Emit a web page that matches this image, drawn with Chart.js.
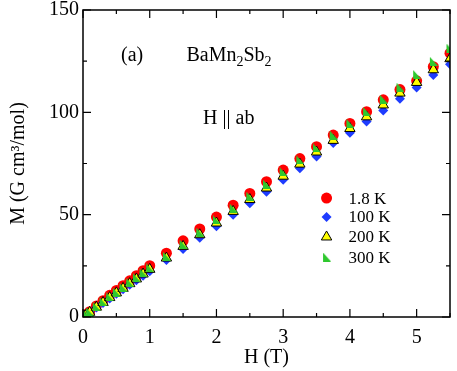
<!DOCTYPE html>
<html>
<head>
<meta charset="utf-8">
<script src="https://cdn.jsdelivr.net/npm/chart.js@4.4.0/dist/chart.umd.min.js"></script>
<style>
  html, body { margin: 0; padding: 0; background: #fff; }
</style>
</head>
<body>
<canvas id="mhChart" width="457" height="371"></canvas>
<script>
// field values H (T)
const fields = [0, 0.02, 0.05, 0.1, 0.2, 0.3, 0.4, 0.5, 0.6, 0.7, 0.8, 0.9, 1.0,
  1.25, 1.5, 1.75, 2.0, 2.25, 2.5, 2.75, 3.0, 3.25, 3.5, 3.75, 4.0, 4.25, 4.5, 4.75, 5.0, 5.25, 5.5];

// magnetization M (G cm^3/mol) at each temperature
const m1p8K = [0.1, 0.5, 1.2, 2.6, 5.4, 8.0, 10.6, 13.0, 15.3, 17.7, 20.2, 22.6, 25.1,
  31.2, 37.2, 43.0, 48.8, 54.6, 60.4, 66.1, 71.8, 77.4, 83.2, 88.9, 94.6, 100.3, 106.1, 111.1, 115.4, 122.3, 128.9];
const m100K = [0, 0.4, 1.1, 2.2, 4.6, 6.9, 9.1, 11.3, 13.5, 15.7, 18.0, 20.2, 22.4,
  27.8, 33.2, 38.7, 44.3, 49.9, 55.6, 61.2, 67.0, 72.7, 78.4, 85.0, 90.0, 95.5, 100.9, 106.6, 112.1, 118.2, 123.5];
const m200K = [0, 0.5, 1.1, 2.3, 4.8, 7.1, 9.5, 11.8, 14.0, 16.3, 18.6, 21.0, 23.3,
  28.8, 34.5, 40.2, 45.9, 51.6, 57.4, 63.0, 68.8, 74.7, 80.6, 86.3, 92.1, 97.8, 103.6, 109.4, 114.6, 120.8, 126.2];
const m300K = [0, 0.5, 1.2, 2.4, 5.0, 7.4, 9.8, 12.1, 14.4, 16.8, 19.2, 21.6, 24.0,
  29.7, 35.6, 41.5, 47.4, 53.2, 59.0, 64.9, 70.9, 76.8, 82.6, 88.9, 94.6, 100.4, 106.5, 112.3, 118.5, 124.9, 131.4];

const seriesLabels = ['1.8 K', '100 K', '200 K', '300 K'];

const serif = "'Liberation Serif', 'DejaVu Serif', serif";

// right-angle triangle marker for 300 K
function cornerTriangle(size, color) {
  const c = document.createElement('canvas');
  c.width = size;
  c.height = size;
  const g = c.getContext('2d');
  g.fillStyle = color;
  g.beginPath();
  g.moveTo(1, 0);
  g.lineTo(1, size);
  g.lineTo(size, size);
  g.closePath();
  g.fill();
  return c;
}

function toPoints(values) {
  return fields.map((h, i) => ({ x: h, y: values[i] }));
}

const styles = [
  { pointStyle: 'circle', pointRadius: 5.5, bg: '#ff0000', border: '#ff0000', bw: 0, order: 4 },
  { pointStyle: 'rectRot', pointRadius: 5, bg: '#1e3cff', border: '#1e3cff', bw: 0, order: 3 },
  { pointStyle: 'triangle', pointRadius: 6, bg: '#ffff00', border: '#000000', bw: 1, order: 2 },
  { pointStyle: cornerTriangle(9, '#2ec82e'), pointRadius: 5, bg: '#2ec82e', border: '#2ec82e', bw: 0, order: 1 }
];

const seriesValues = [m1p8K, m100K, m200K, m300K];

const datasets = seriesValues.map((vals, i) => ({
  label: seriesLabels[i],
  data: toPoints(vals),
  showLine: false,
  pointStyle: styles[i].pointStyle,
  pointRadius: styles[i].pointRadius,
  pointHoverRadius: styles[i].pointRadius,
  backgroundColor: styles[i].bg,
  borderColor: styles[i].border,
  pointBorderWidth: styles[i].bw,
  order: styles[i].order
}));

// box frame with inward ticks on all four sides
const frameTicks = {
  id: 'frameTicks',
  afterDraw(chart) {
    const { ctx, chartArea: a, scales: { x, y } } = chart;
    ctx.save();
    ctx.strokeStyle = '#000';
    ctx.lineWidth = 1.5;
    ctx.strokeRect(a.left, a.top, a.right - a.left, a.bottom - a.top);
    ctx.lineWidth = 1.2;
    ctx.beginPath();
    for (let v = 0; v <= 5.5001; v += 0.5) {
      const px = x.getPixelForValue(v);
      const len = Math.abs(v - Math.round(v)) < 1e-6 ? 8 : 4;
      ctx.moveTo(px, a.bottom); ctx.lineTo(px, a.bottom - len);
      ctx.moveTo(px, a.top); ctx.lineTo(px, a.top + len);
    }
    for (let v = 0; v <= 150; v += 25) {
      const py = y.getPixelForValue(v);
      const len = v % 50 === 0 ? 8 : 4;
      ctx.moveTo(a.left, py); ctx.lineTo(a.left + len, py);
      ctx.moveTo(a.right, py); ctx.lineTo(a.right - len, py);
    }
    ctx.stroke();
    ctx.restore();
  }
};

// in-plot labels and legend
const annotations = {
  id: 'annotations',
  afterDraw(chart) {
    const { ctx, scales: { x, y } } = chart;
    ctx.save();
    ctx.fillStyle = '#000';
    ctx.textBaseline = 'alphabetic';
    ctx.textAlign = 'left';
    ctx.font = '20px ' + serif;
    ctx.fillText('(a)', x.getPixelForValue(0.57), y.getPixelForValue(125.3));

    // BaMn2Sb2 with subscripts
    let px = x.getPixelForValue(1.55);
    const base = y.getPixelForValue(125.3);
    const parts = [['Ba', false], ['Mn', false], ['2', true], ['Sb', false], ['2', true]];
    parts.forEach(([t, sub]) => {
      ctx.font = (sub ? '14px ' : '20px ') + serif;
      ctx.fillText(t, px, sub ? base + 5 : base);
      px += ctx.measureText(t).width;
    });

    ctx.font = '20px ' + serif;
    ctx.fillText('H || ab', x.getPixelForValue(1.8), y.getPixelForValue(94.3));

    // legend
    const lx = x.getPixelForValue(3.65);
    const tx = x.getPixelForValue(3.98);
    const rows = [58.1, 48.9, 39.1, 29.3];
    ctx.font = '17px ' + serif;
    ctx.textBaseline = 'middle';
    chart.data.datasets.forEach((ds, i) => {
      const ly = y.getPixelForValue(rows[i]);
      ctx.fillStyle = ds.backgroundColor;
      ctx.strokeStyle = ds.borderColor;
      ctx.lineWidth = ds.pointBorderWidth;
      Chart.helpers.drawPoint(ctx, {
        pointStyle: ds.pointStyle,
        radius: ds.pointRadius,
        rotation: 0,
        borderWidth: ds.pointBorderWidth
      }, lx, ly);
      ctx.fillStyle = '#000';
      ctx.fillText(ds.label, tx, ly + 1);
    });
    ctx.restore();
  }
};

new Chart(document.getElementById('mhChart'), {
  type: 'scatter',
  data: { datasets },
  options: {
    responsive: false,
    devicePixelRatio: 1,
    animation: false,
    layout: { padding: { left: 0, right: 5, top: 10, bottom: 0 } },
    plugins: {
      legend: { display: false },
      tooltip: { enabled: false }
    },
    scales: {
      x: {
        type: 'linear',
        min: 0,
        max: 5.5,
        grid: { display: false, drawTicks: false },
        border: { display: false },
        ticks: {
          stepSize: 1,
          includeBounds: false,
          color: '#000',
          padding: 9,
          maxRotation: 0,
          font: { family: serif, size: 20 }
        },
        title: {
          display: true,
          text: 'H (T)',
          color: '#000',
          padding: { top: 0, bottom: 1 },
          font: { family: serif, size: 20 }
        },
        afterFit(scale) { scale.height = 54; }
      },
      y: {
        type: 'linear',
        min: 0,
        max: 150,
        grid: { display: false, drawTicks: false },
        border: { display: false },
        ticks: {
          stepSize: 50,
          color: '#000',
          padding: 4,
          font: { family: serif, size: 20, lineHeight: 0.6 }
        },
        title: {
          display: true,
          text: 'M (G cm\u00B3/mol)',
          color: '#000',
          padding: { top: 7, bottom: 0 },
          font: { family: serif, size: 20 }
        },
        afterFit(scale) { scale.width = 83; }
      }
    }
  },
  plugins: [frameTicks, annotations]
});
</script>
</body>
</html>
